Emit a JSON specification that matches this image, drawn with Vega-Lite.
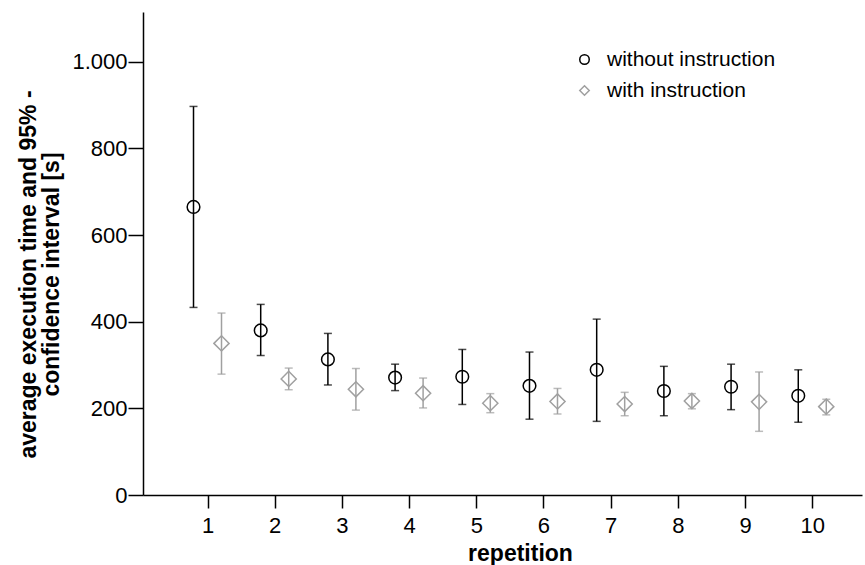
{
  "$schema": "https://vega.github.io/schema/vega-lite/v6.json",
  "width": 719,
  "height": 483,
  "autosize": "none",
  "padding": {"left": 143, "top": 12, "right": 3, "bottom": 70},
  "background": "white",
  "config": {
    "view": {"stroke": null},
    "font": "Liberation Sans",
    "axis": {"grid": false, "domainColor": "black", "tickColor": "black", "labelColor": "black", "titleColor": "black", "domainWidth": 1.5, "tickWidth": 1.5}
  },
  "data": {
    "values": [
      {"rep": 1, "group": "without instruction", "mean": 665, "lo": 433, "hi": 897},
      {"rep": 2, "group": "without instruction", "mean": 380, "lo": 322, "hi": 440},
      {"rep": 3, "group": "without instruction", "mean": 313, "lo": 254, "hi": 373},
      {"rep": 4, "group": "without instruction", "mean": 271, "lo": 241, "hi": 302},
      {"rep": 5, "group": "without instruction", "mean": 273, "lo": 209, "hi": 336},
      {"rep": 6, "group": "without instruction", "mean": 252, "lo": 175, "hi": 330},
      {"rep": 7, "group": "without instruction", "mean": 289, "lo": 170, "hi": 406},
      {"rep": 8, "group": "without instruction", "mean": 240, "lo": 183, "hi": 297},
      {"rep": 9, "group": "without instruction", "mean": 250, "lo": 197, "hi": 302},
      {"rep": 10, "group": "without instruction", "mean": 229, "lo": 168, "hi": 289},
      {"rep": 1, "group": "with instruction", "mean": 350, "lo": 279, "hi": 420},
      {"rep": 2, "group": "with instruction", "mean": 268, "lo": 243, "hi": 293},
      {"rep": 3, "group": "with instruction", "mean": 244, "lo": 196, "hi": 292},
      {"rep": 4, "group": "with instruction", "mean": 235, "lo": 201, "hi": 270},
      {"rep": 5, "group": "with instruction", "mean": 212, "lo": 190, "hi": 234},
      {"rep": 6, "group": "with instruction", "mean": 216, "lo": 187, "hi": 246},
      {"rep": 7, "group": "with instruction", "mean": 210, "lo": 183, "hi": 237},
      {"rep": 8, "group": "with instruction", "mean": 217, "lo": 199, "hi": 234},
      {"rep": 9, "group": "with instruction", "mean": 215, "lo": 147, "hi": 284},
      {"rep": 10, "group": "with instruction", "mean": 204, "lo": 185, "hi": 221}
    ]
  },
  "layer": [
    {
      "transform": [{"filter": "datum.group == 'without instruction'"}],
      "mark": {"type": "rule", "color": "black", "strokeWidth": 1.5, "xOffset": -14},
      "encoding": {
        "x": {"field": "rep", "type": "quantitative", "scale": {"domain": [0.04, 10.74], "nice": false, "zero": false},
          "axis": {"values": [1,2,3,4,5,6,7,8,9,10], "format": "d", "tickSize": 13, "labelPadding": 7, "labelFontSize": 22, "title": "repetition", "titleFontSize": 23, "titleFontWeight": "bold", "titleX": 377, "titleY": 65, "titleBaseline": "alphabetic"}},
        "y": {"field": "lo", "type": "quantitative", "scale": {"domain": [0, 1115], "nice": false},
          "axis": {"values": [0,200,400,600,800,1000], "labelExpr": "replace(datum.label, ',', '.')", "tickSize": 15, "labelPadding": 1, "labelFontSize": 22, "title": ["average execution time and 95% -", "confidence interval [s]"], "titleFontSize": 23, "titleFontWeight": "bold", "titleLineHeight": 23, "titlePadding": 8, "titleY": 262}},
        "y2": {"field": "hi"}
      }
    },
    {
      "transform": [{"filter": "datum.group == 'without instruction'"}],
      "mark": {"type": "tick", "orient": "horizontal", "color": "black", "size": 8, "thickness": 1.5, "xOffset": -14},
      "encoding": {"x": {"field": "rep", "type": "quantitative"}, "y": {"field": "lo", "type": "quantitative"}}
    },
    {
      "transform": [{"filter": "datum.group == 'without instruction'"}],
      "mark": {"type": "tick", "orient": "horizontal", "color": "black", "size": 8, "thickness": 1.5, "xOffset": -14},
      "encoding": {"x": {"field": "rep", "type": "quantitative"}, "y": {"field": "hi", "type": "quantitative"}}
    },
    {
      "transform": [{"filter": "datum.group == 'with instruction'"}],
      "mark": {"type": "rule", "color": "#a0a0a0", "strokeWidth": 1.5, "xOffset": 14},
      "encoding": {"x": {"field": "rep", "type": "quantitative"}, "y": {"field": "lo", "type": "quantitative"}, "y2": {"field": "hi"}}
    },
    {
      "transform": [{"filter": "datum.group == 'with instruction'"}],
      "mark": {"type": "tick", "orient": "horizontal", "color": "#a0a0a0", "size": 8, "thickness": 1.5, "xOffset": 14},
      "encoding": {"x": {"field": "rep", "type": "quantitative"}, "y": {"field": "lo", "type": "quantitative"}}
    },
    {
      "transform": [{"filter": "datum.group == 'with instruction'"}],
      "mark": {"type": "tick", "orient": "horizontal", "color": "#a0a0a0", "size": 8, "thickness": 1.5, "xOffset": 14},
      "encoding": {"x": {"field": "rep", "type": "quantitative"}, "y": {"field": "hi", "type": "quantitative"}}
    },
    {
      "transform": [{"filter": "datum.group == 'without instruction'"}],
      "mark": {"type": "point", "filled": false, "strokeWidth": 1.5, "size": 160, "xOffset": -14, "opacity": 1},
      "encoding": {
        "x": {"field": "rep", "type": "quantitative"},
        "y": {"field": "mean", "type": "quantitative"},
        "color": {"field": "group", "type": "nominal", "scale": {"domain": ["without instruction", "with instruction"], "range": ["black", "#a0a0a0"]},
          "legend": {"orient": "none", "legendX": 431, "legendY": 37, "title": null, "labelFontSize": 21, "labelLimit": 0, "symbolSize": 90, "symbolStrokeWidth": 1.5, "labelOffset": 12, "rowPadding": 9, "padding": 0, "labelColor": "black"}},
        "shape": {"field": "group", "type": "nominal", "scale": {"domain": ["without instruction", "with instruction"], "range": ["circle", "diamond"]},
          "legend": {"orient": "none", "legendX": 431, "legendY": 37, "title": null, "labelFontSize": 21, "labelLimit": 0, "symbolSize": 90, "symbolStrokeWidth": 1.5, "labelOffset": 12, "rowPadding": 9, "padding": 0, "labelColor": "black"}}
      }
    },
    {
      "transform": [{"filter": "datum.group == 'with instruction'"}],
      "mark": {"type": "point", "filled": false, "strokeWidth": 1.5, "size": 230, "xOffset": 14, "opacity": 1},
      "encoding": {
        "x": {"field": "rep", "type": "quantitative"},
        "y": {"field": "mean", "type": "quantitative"},
        "color": {"field": "group", "type": "nominal"},
        "shape": {"field": "group", "type": "nominal"}
      }
    }
  ]
}
